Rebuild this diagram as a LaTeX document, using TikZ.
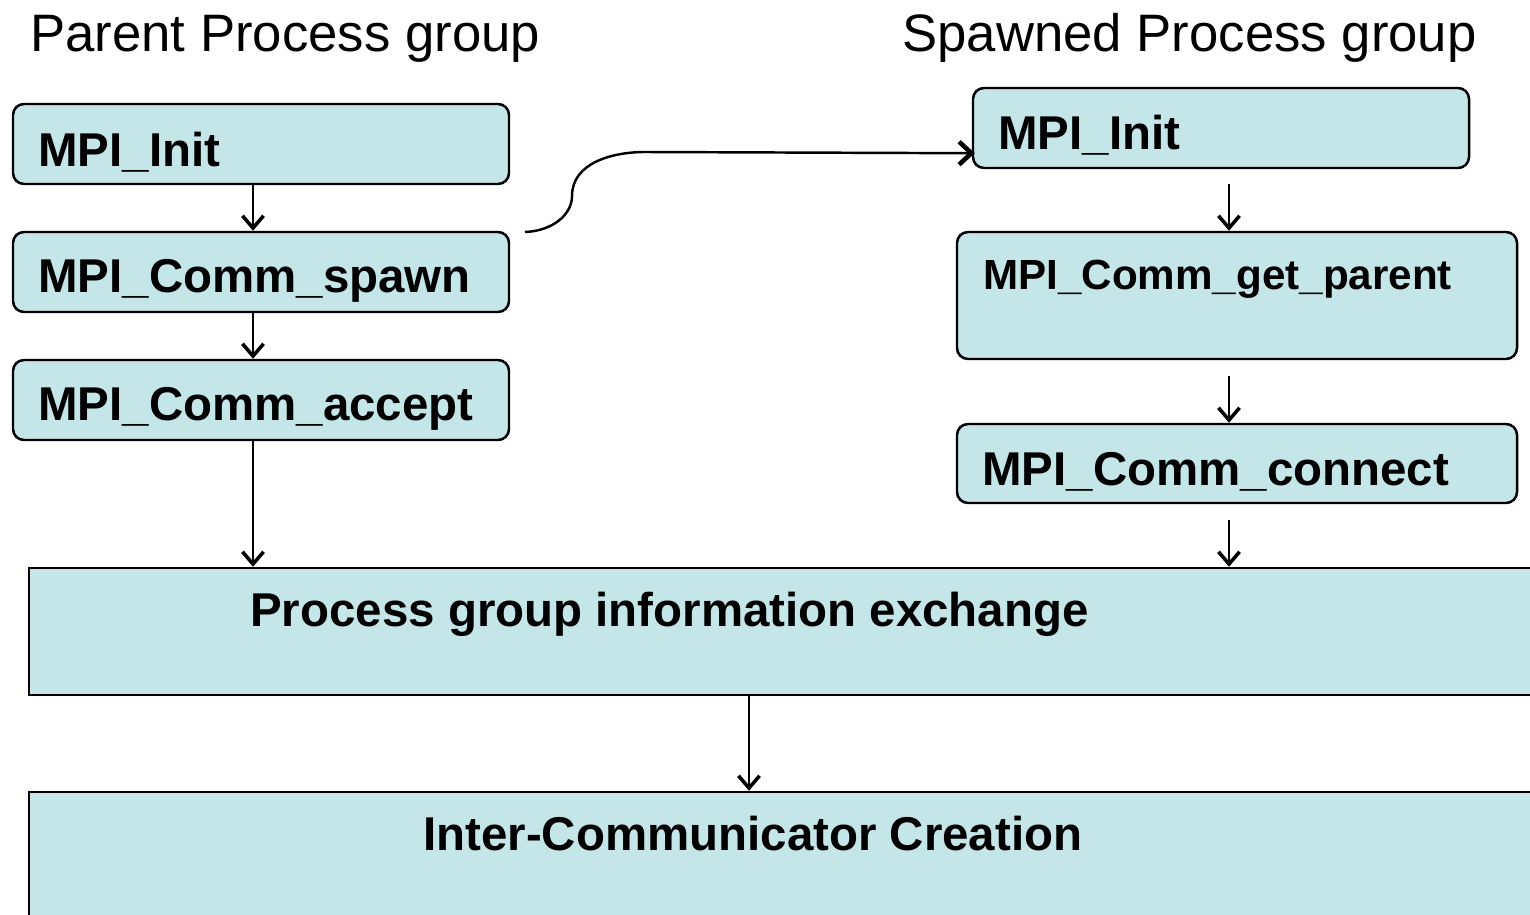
\documentclass[tikz,border=0pt]{standalone}
\usepackage{fontspec}
\setmainfont{Liberation Sans}
\usetikzlibrary{arrows.meta,fit,calc}
\definecolor{boxfill}{RGB}{196,230,232}
\begin{document}
\begin{tikzpicture}[x=0.02cm,y=-0.02cm,
  flowbox/.style={draw=black, line width=1.4pt, fill=boxfill, rounded corners=0.22cm, inner sep=0pt},
  stagebox/.style={draw=black, line width=1.4pt, fill=boxfill, inner sep=0pt},
  lbl/.style={anchor=base west, inner sep=0pt, font=\fontsize{27}{32}\selectfont\bfseries},
  smalllbl/.style={lbl, font=\fontsize{24}{29}\selectfont\bfseries},
  grouptitle/.style={anchor=base west, inner sep=0pt, font=\fontsize{30}{36}\selectfont},
  arr/.style={line width=1.2pt, -{Straight Barb[length=7pt,width=12pt,line width=2pt]}},
  bigarr/.style={line width=1.4pt, -{Straight Barb[length=7pt,width=13pt,line width=2.6pt]}},
]
\useasboundingbox (0,0) rectangle (1530,915);

% group headings
\node[grouptitle] (tparent) at (30,52) {Parent Process group};
\node[grouptitle] (tspawn) at (902,52) {Spawned Process group};

% parent side
\node[flowbox, fit={(13,104) (509,184)}] (pinit) {};
\node[lbl] (lpinit) at (38,167) {MPI\_Init};
\node[flowbox, fit={(13,232) (509,312)}] (pspawn) {};
\node[lbl] (lpspawn) at (38,293) {MPI\_Comm\_spawn};
\node[flowbox, fit={(13,360) (509,440)}] (paccept) {};
\node[lbl] (lpaccept) at (38,420) {MPI\_Comm\_accept};

% spawned side
\node[flowbox, fit={(973,88) (1469,168)}] (sinit) {};
\node[lbl] (lsinit) at (998,150) {MPI\_Init};
\node[flowbox, fit={(957,232) (1517,359)}] (sparent) {};
\node[smalllbl] (lsparent) at (983,290) {MPI\_Comm\_get\_parent};
\node[flowbox, fit={(957,424) (1517,503)}] (sconnect) {};
\node[lbl] (lsconnect) at (982,485) {MPI\_Comm\_connect};

% common stages
\node[stagebox, fit={(29,568) (1560,695)}] (exch) {};
\node[lbl] (lexch) at (250,626) {Process group information exchange};
\node[stagebox, fit={(29,792) (1560,960)}] (inter) {};
\node[lbl] (linter) at (423,850) {Inter-Communicator Creation};

% connector columns and free ends
\coordinate (lx) at (253,0);
\coordinate (mx) at (749,0);
\coordinate (so1) at (1229,184);
\coordinate (so2) at (1229,376);
\coordinate (so3) at (1229,520);
\coordinate (sp) at (525,232);

% parent flow
\draw[arr] (pinit.south -| lx) -- (pspawn.north -| lx);
\draw[arr] (pspawn.south -| lx) -- (paccept.north -| lx);
\draw[arr] (paccept.south -| lx) -- (exch.north -| lx);

% spawned flow
\draw[arr] (so1) -- (sparent.north -| so1);
\draw[arr] (so2) -- (sconnect.north -| so2);
\draw[arr] (so3) -- (exch.north -| so3);

% spawn launches the child group
\draw[bigarr] (sp) .. controls (552,231) and (572,215) .. (572,196)
  .. controls (572,163) and (612,152) .. (645,152)
  -- ($(sinit.south west)+(3,-16)$);

% exchange leads to the inter-communicator
\draw[arr] (exch.south -| mx) -- (inter.north -| mx);
\end{tikzpicture}
\end{document}
